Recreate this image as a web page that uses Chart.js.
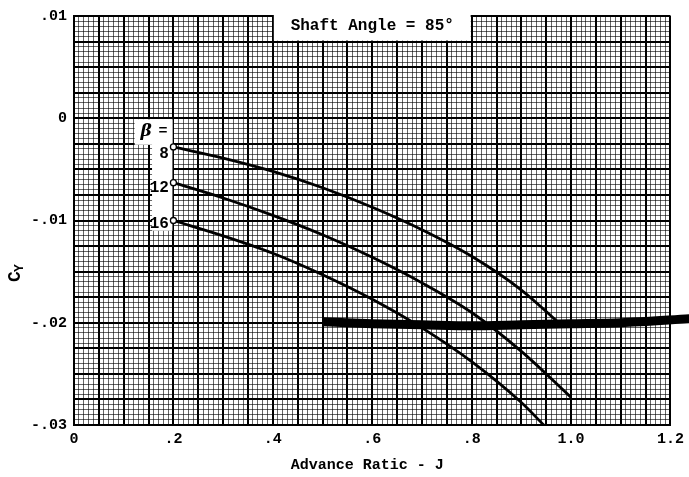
<!DOCTYPE html>
<html><head><meta charset="utf-8">
<script src="https://cdn.jsdelivr.net/npm/chart.js@4.4.1/dist/chart.umd.min.js"></script>
<style>html,body{margin:0;padding:0;background:#fff;} #wrap{width:689px;height:477px;}</style>
</head><body><div id="wrap"><canvas id="c" width="689" height="477"></canvas></div>
<script>
// ---- data ----
const betaLabels = ['8', '12', '16'];
const j8  = [0.20, 0.30, 0.40, 0.50, 0.60, 0.70, 0.80, 0.90, 0.975];
const cy8 = [-0.0028, -0.0039, -0.0052, -0.0068, -0.0087, -0.0109, -0.0135, -0.0168, -0.0200];
const j12  = [0.20, 0.30, 0.40, 0.50, 0.60, 0.70, 0.80, 0.90, 1.00];
const cy12 = [-0.0063, -0.0078, -0.0095, -0.0114, -0.0136, -0.0161, -0.0190, -0.0228, -0.0273];
const j16  = [0.20, 0.30, 0.40, 0.50, 0.60, 0.70, 0.80, 0.90, 0.945];
const cy16 = [-0.0100, -0.0115, -0.0132, -0.0153, -0.0177, -0.0205, -0.0238, -0.0278, -0.0300];
// dark scanned band across the sheet
const bandJ  = [0.50, 0.60, 0.70, 0.80, 0.90, 1.00, 1.10, 1.24];
const bandCy = [-0.0199, -0.0201, -0.0202, -0.0203, -0.0202, -0.0201, -0.0200, -0.0196];

const xTickValues = [0, 0.2, 0.4, 0.6, 0.8, 1.0, 1.2];
const xTickLabels = ['0', '.2', '.4', '.6', '.8', '1.0', '1.2'];
const yTickValues = [0.01, 0, -0.01, -0.02, -0.03];
const yTickLabels = ['.01', '0', '-.01', '-.02', '-.03'];

const chartTitle = 'Shaft Angle = 85\u00B0';
const xTitle = 'Advance Ratic - J';

// ---- helpers ----
const pts = (xs, ys) => xs.map((v, i) => ({x: v, y: ys[i]}));
const near = (a, b, eps) => Math.abs(a - b) < eps;
const isMult = (v, step) => near(v / step, Math.round(v / step), 1e-6);
const labelFor = (v, vals, labs) => { const i = vals.findIndex(t => near(t, v, 1e-9)); return i >= 0 ? labs[i] : ''; };

const curveStyle = {
  borderColor: '#000', borderWidth: 2.8, fill: false,
  cubicInterpolationMode: 'monotone',
  pointRadius: c => c.dataIndex === 0 ? 3 : 0,
  pointBackgroundColor: '#fff', pointBorderColor: '#000', pointBorderWidth: 1.3
};

const MONO = '"Liberation Mono", "DejaVu Sans Mono", monospace';

const overlay = {
  id: 'overlay',
  beforeDatasetsDraw(chart) {
    const {ctx, scales: {x, y}} = chart;
    ctx.save();
    ctx.fillStyle = '#fff';
    // title box (covers grid)
    const tx0 = x.getPixelForValue(0.4) + 1, tx1 = x.getPixelForValue(0.8) - 1;
    ctx.fillRect(tx0, 0, tx1 - tx0, y.getPixelForValue(0.0075) - 1);
    // beta label box
    const bx0 = x.getPixelForValue(0.122), bx1 = x.getPixelForValue(0.2) - 1;
    const by0 = y.getPixelForValue(0) + 1, by1 = y.getPixelForValue(-0.0025) + 1;
    ctx.fillRect(bx0, by0, bx1 - bx0, by1 - by0);
    const nx0 = x.getPixelForValue(0.157), ny1 = y.getPixelForValue(-0.011);
    ctx.fillRect(nx0, by0, bx1 - nx0, ny1 - by0);
    ctx.restore();
  },
  afterDraw(chart) {
    const {ctx, scales: {x, y}, chartArea} = chart;
    ctx.save();
    ctx.fillStyle = '#000';
    // chart title
    ctx.font = 'bold 16px ' + MONO;
    ctx.textAlign = 'center'; ctx.textBaseline = 'middle';
    ctx.fillText(chartTitle, x.getPixelForValue(0.6), 26);
    // beta labels
    ctx.font = 'italic bold 17px "DejaVu Serif", serif';
    ctx.textAlign = 'left';
    ctx.fillText('\u03B2', x.getPixelForValue(0.134), y.getPixelForValue(-0.0013));
    ctx.font = 'bold 15px ' + MONO;
    ctx.fillText('=', x.getPixelForValue(0.17), y.getPixelForValue(-0.0013));
    ctx.textAlign = 'right';
    ctx.font = 'bold 16px ' + MONO;
    const labY = [-0.0035, -0.0068, -0.0103];
    betaLabels.forEach((t, i) => ctx.fillText(t, x.getPixelForValue(0.191), y.getPixelForValue(labY[i])));
    // x title
    ctx.font = 'bold 15px ' + MONO;
    ctx.textAlign = 'center';
    ctx.fillText(xTitle, (chartArea.left + chartArea.right) / 2 - 5, 465);
    // y title C_Y rotated
    ctx.translate(15, 272);
    ctx.rotate(-Math.PI / 2);
    ctx.font = 'bold 18px ' + MONO;
    ctx.textAlign = 'left';
    ctx.fillText('C', -10, 0);
    ctx.font = 'bold 13px ' + MONO;
    ctx.fillText('Y', 0, 5);
    ctx.restore();
  }
};

new Chart(document.getElementById('c'), {
  type: 'line',
  data: {
    datasets: [
      Object.assign({label: 'beta 8', data: pts(j8, cy8)}, curveStyle),
      Object.assign({label: 'beta 12', data: pts(j12, cy12)}, curveStyle),
      Object.assign({label: 'beta 16', data: pts(j16, cy16)}, curveStyle),
      {label: 'band', data: pts(bandJ, bandCy), borderColor: '#000', borderWidth: 9,
       pointRadius: 0, fill: false, tension: 0.3, clip: false}
    ]
  },
  plugins: [overlay],
  options: {
    responsive: false, animation: false,
    layout: {padding: {top: 14, right: 18, left: 0, bottom: 0}},
    plugins: {legend: {display: false}, tooltip: {enabled: false}, title: {display: false}},
    scales: {
      x: {
        type: 'linear', min: 0, max: 1.2,
        afterFit: s => { s.height = 52; },
        border: {display: true, color: '#000', width: 2},
        grid: {
          drawTicks: false,
          color: c => isMult(c.tick.value, 0.05) ? '#000' : 'rgba(0,0,0,0.6)',
          lineWidth: c => isMult(c.tick.value, 0.05) ? 2 : 1
        },
        ticks: {
          stepSize: 0.01, autoSkip: false, maxRotation: 0, padding: 5, maxTicksLimit: 1000,
          color: '#000', font: {family: MONO, size: 15, weight: 'bold'},
          callback: v => labelFor(v, xTickValues, xTickLabels)
        }
      },
      y: {
        type: 'linear', min: -0.03, max: 0.01,
        afterFit: s => { s.width = 74; },
        border: {display: true, color: '#000', width: 2},
        grid: {
          drawTicks: false,
          color: c => isMult(c.tick.value, 0.0025) ? '#000' : 'rgba(0,0,0,0.6)',
          lineWidth: c => isMult(c.tick.value, 0.0025) ? 2 : 1
        },
        ticks: {
          stepSize: 0.0005, autoSkip: false, padding: 7, maxTicksLimit: 1000,
          color: '#000', font: {family: MONO, size: 15, weight: 'bold'},
          callback: v => labelFor(v, yTickValues, yTickLabels)
        }
      }
    }
  }
});
</script>
</body></html>
